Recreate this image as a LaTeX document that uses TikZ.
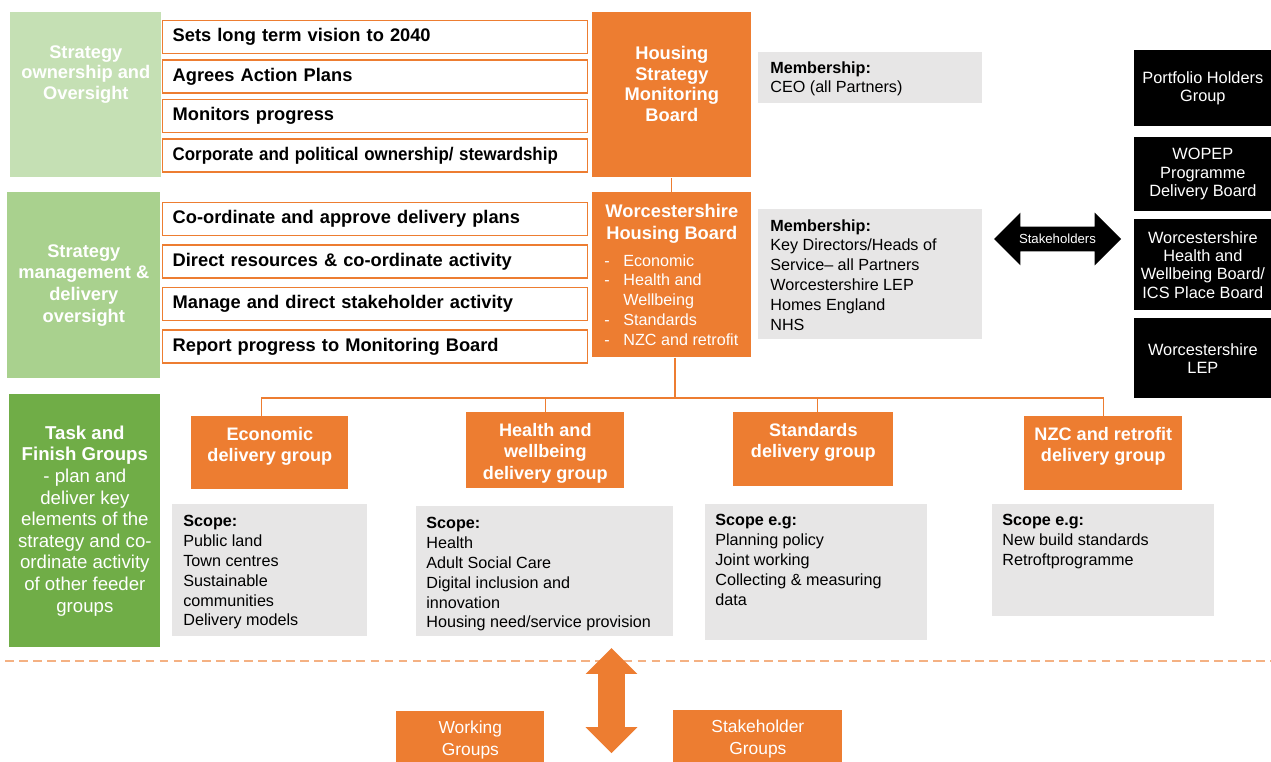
\documentclass[tikz,border=0pt]{standalone}
\usepackage{fontspec}
\setmainfont{Liberation Sans}
\usepackage{tikz}
\usetikzlibrary{positioning, shapes.arrows}
\definecolor{hsOrange}{HTML}{ED7D31}
\definecolor{hsLightOrange}{HTML}{F4B183}
\definecolor{hsGreenA}{HTML}{C5E0B4}
\definecolor{hsGreenB}{HTML}{A9D18E}
\definecolor{hsGreenC}{HTML}{70AD47}
\definecolor{hsGrey}{HTML}{E7E6E6}
\tikzset{
    band/.style={rectangle, anchor=north west, inner sep=0pt, text=white, align=center},
    bandText/.style={align=center, text=white, inner sep=0pt, font=\fontsize{10.4}{11.6}\selectfont\bfseries},
    task/.style={rectangle, draw=hsOrange, line width=0.8pt, fill=white, anchor=north west, minimum height=0.66cm, text width=8.1cm, inner xsep=0.2cm, inner ysep=0pt, align=left, font=\fontsize{10.4}{12}\selectfont\bfseries},
    board/.style={rectangle, fill=hsOrange, anchor=north west, minimum width=3.18cm, minimum height=3.30cm, inner sep=0pt},
    boardText/.style={align=center, text=white, inner sep=0pt, font=\fontsize{10.4}{11.9}\selectfont\bfseries},
    member/.style={rectangle, fill=hsGrey, anchor=north west, minimum width=4.48cm, inner sep=0pt},
    listText/.style={align=left, inner sep=0pt, font=\fontsize{9.2}{11.3}\selectfont},
    partner/.style={rectangle, fill=black, text=white, anchor=north west, minimum width=2.74cm, align=center, inner sep=0pt, font=\fontsize{9.3}{10.5}\selectfont},
    delivery/.style={rectangle, fill=hsOrange, anchor=north west, inner sep=0pt},
    deliveryText/.style={align=center, text=white, inner sep=0pt, font=\fontsize{10.3}{12.2}\selectfont\bfseries},
    scope/.style={rectangle, fill=hsGrey, anchor=north west, inner sep=0pt},
    feeder/.style={rectangle, fill=hsOrange, text=white, anchor=north west, align=center, minimum height=1.16cm, inner sep=0pt, font=\fontsize{9.9}{12.4}\selectfont}
}

\begin{document}
\begin{tikzpicture}[
        link/.style={draw=hsOrange, line width=0.6pt},
        divider/.style={draw=hsLightOrange, line width=0.9pt, dash pattern=on 5pt off 3pt}
    ]
        \useasboundingbox (0,0) rectangle (25.42,-15.24);

        % Left bands
        \node[band, fill=hsGreenA, minimum width=3.02cm, minimum height=3.30cm] (Ownership) at (0.20,-0.24) {};
        \node[bandText, below=0.67cm of Ownership.north] (OwnershipText) {Strategy\\ownership and\\Oversight};
        \node[band, fill=hsGreenB, minimum width=3.06cm, minimum height=3.72cm, font=\fontsize{10.4}{12.3}\selectfont\bfseries] (Management) at (0.14,-3.84) {Strategy\\management \&\\delivery\\oversight};
        \node[band, fill=hsGreenC, minimum width=3.02cm, minimum height=5.06cm, font=\fontsize{10.6}{12.3}\selectfont] (TaskFinish) at (0.18,-7.88) {\textbf{Task and}\\\textbf{Finish Groups}\\- plan and\\deliver key\\elements of the\\strategy and co-\\ordinate activity\\of other feeder\\groups};

        % Roles
        \node[task] (SetsVision) at (3.24,-0.40) {Sets long term vision to 2040};
        \node[task, below=0.1cm of SetsVision] (AgreesPlans) {Agrees Action Plans};
        \node[task, below=0.1cm of AgreesPlans] (Monitors) {Monitors progress};
        \node[task, below=0.1cm of Monitors] (Stewardship) {\scalebox{0.925}[1]{Corporate and political ownership/ stewardship}};

        \node[task] (ApprovePlans) at (3.24,-4.04) {Co-ordinate and approve delivery plans};
        \node[task, below=0.16cm of ApprovePlans] (DirectResources) {Direct resources \& co-ordinate activity};
        \node[task, below=0.16cm of DirectResources] (ManageStake) {Manage and direct stakeholder activity};
        \node[task, below=0.16cm of ManageStake] (ReportProgress) {Report progress to Monitoring Board};

        % Boards
        \node[board] (MonitoringBoard) at (11.84,-0.24) {};
        \node[boardText, below=0.67cm of MonitoringBoard.north] (MonitoringText) {Housing\\Strategy\\Monitoring\\Board};
        \node[board] (HousingBoard) at (11.84,-3.84) {};
        \node[boardText, below=0.23cm of HousingBoard.north, font=\fontsize{10.4}{12.5}\selectfont\bfseries] (HousingTitle) {Worcestershire\\Housing Board};
        \node[listText, text=white, below right=1.24cm and 0.24cm of HousingBoard.north west] (HousingList) {\makebox[0.38cm][l]{-}Economic\\\makebox[0.38cm][l]{-}Health and\\\makebox[0.38cm][l]{}Wellbeing\\\makebox[0.38cm][l]{-}Standards\\\makebox[0.38cm][l]{-}NZC and retrofit};

        % Membership
        \node[member, minimum height=1.02cm] (CeoMembers) at (15.16,-1.04) {};
        \node[listText, below right=0.18cm and 0.24cm of CeoMembers.north west] (CeoText) {\textbf{Membership:}\\CEO (all Partners)};
        \node[member, minimum height=2.60cm] (KeyMembers) at (15.16,-4.18) {};
        \node[listText, below right=0.20cm and 0.24cm of KeyMembers.north west] (KeyText) {\textbf{Membership:}\\Key Directors/Heads of\\Service– all Partners\\Worcestershire LEP\\Homes England\\NHS};

        % Partners
        \node[double arrow, fill=black, text=white, minimum height=2.54cm, minimum width=1.04cm, double arrow head extend=0.28cm, inner xsep=1pt, inner ysep=4.1pt, font=\fontsize{7.5}{9}\selectfont] (StakeArrow) at (21.15,-4.78) {Stakeholders};
        \node[partner, minimum height=1.52cm] (Portfolio) at (22.68,-1.00) {Portfolio Holders\\Group};
        \node[partner, minimum height=1.48cm] (Wopep) at (22.68,-2.74) {WOPEP\\Programme\\Delivery Board};
        \node[partner, minimum height=1.82cm] (WellbeingBoard) at (22.68,-4.38) {Worcestershire\\Health and\\Wellbeing Board/\\ICS Place Board};
        \node[partner, minimum height=1.60cm] (Lep) at (22.68,-6.36) {Worcestershire\\LEP};

        % Delivery groups
        \node[delivery, minimum width=3.14cm, minimum height=1.46cm] (Economic) at (3.82,-8.32) {};
        \node[deliveryText, below=0.22cm of Economic.north] (EconomicText) {Economic\\delivery group};
        \node[delivery, minimum width=3.16cm, minimum height=1.52cm] (Health) at (9.32,-8.24) {};
        \node[deliveryText, below=0.22cm of Health.north] (HealthText) {Health and\\wellbeing\\delivery group};
        \node[delivery, minimum width=3.20cm, minimum height=1.48cm] (Standards) at (14.66,-8.24) {};
        \node[deliveryText, below=0.22cm of Standards.north] (StandardsText) {Standards\\delivery group};
        \node[delivery, minimum width=3.16cm, minimum height=1.48cm] (NetZero) at (20.48,-8.32) {};
        \node[deliveryText, below=0.22cm of NetZero.north] (NetZeroText) {NZC and retrofit\\delivery group};

        % Scopes
        \node[scope, minimum width=3.90cm, minimum height=2.64cm] (EconomicScope) at (3.44,-10.08) {};
        \node[listText, below right=0.22cm and 0.22cm of EconomicScope.north west] {\textbf{Scope:}\\Public land\\Town centres\\Sustainable\\communities\\Delivery models};
        \node[scope, minimum width=5.14cm, minimum height=2.60cm] (HealthScope) at (8.32,-10.12) {};
        \node[listText, below right=0.22cm and 0.20cm of HealthScope.north west] {\textbf{Scope:}\\Health\\Adult Social Care\\Digital inclusion and\\innovation\\Housing need/service provision};
        \node[scope, minimum width=4.44cm, minimum height=2.72cm] (StandardsScope) at (14.10,-10.08) {};
        \node[listText, below right=0.20cm and 0.20cm of StandardsScope.north west] {\textbf{Scope e.g:}\\Planning policy\\Joint working\\Collecting \& measuring\\data};
        \node[scope, minimum width=4.44cm, minimum height=2.24cm] (NetZeroScope) at (19.84,-10.08) {};
        \node[listText, below right=0.20cm and 0.20cm of NetZeroScope.north west] {\textbf{Scope e.g:}\\New build standards\\Retroftprogramme};

        % Feeder groups
        \draw[divider] (0.10,-13.22) -- (25.42,-13.22);
        \node[double arrow, rotate=90, fill=hsOrange, minimum height=2.10cm, minimum width=1.02cm, double arrow head extend=0.25cm, inner sep=0.26cm] (FeedArrow) at (12.23,-14.01) {};
        \node[feeder, minimum width=2.96cm] (Working) at (7.92,-14.22) {Working\\Groups};
        \node[feeder, minimum width=3.38cm] (StakeGroups) at (13.46,-14.20) {Stakeholder\\Groups};

        % Edges
        \coordinate (Bus) at (13.50,-7.96);
        \draw[link] (MonitoringBoard) -- (HousingBoard);
        \draw[link] (Bus |- HousingBoard.south) -- (Bus);
        \draw[link] ([xshift=-0.17cm]Economic.north) |- (Bus) -| (NetZero.north);
        \draw[link] (Health.north) -- (Health.north |- Bus);
        \draw[link] ([xshift=0.08cm]Standards.north) -- ([xshift=0.08cm]Standards.north |- Bus);

    \end{tikzpicture}
\end{document}
